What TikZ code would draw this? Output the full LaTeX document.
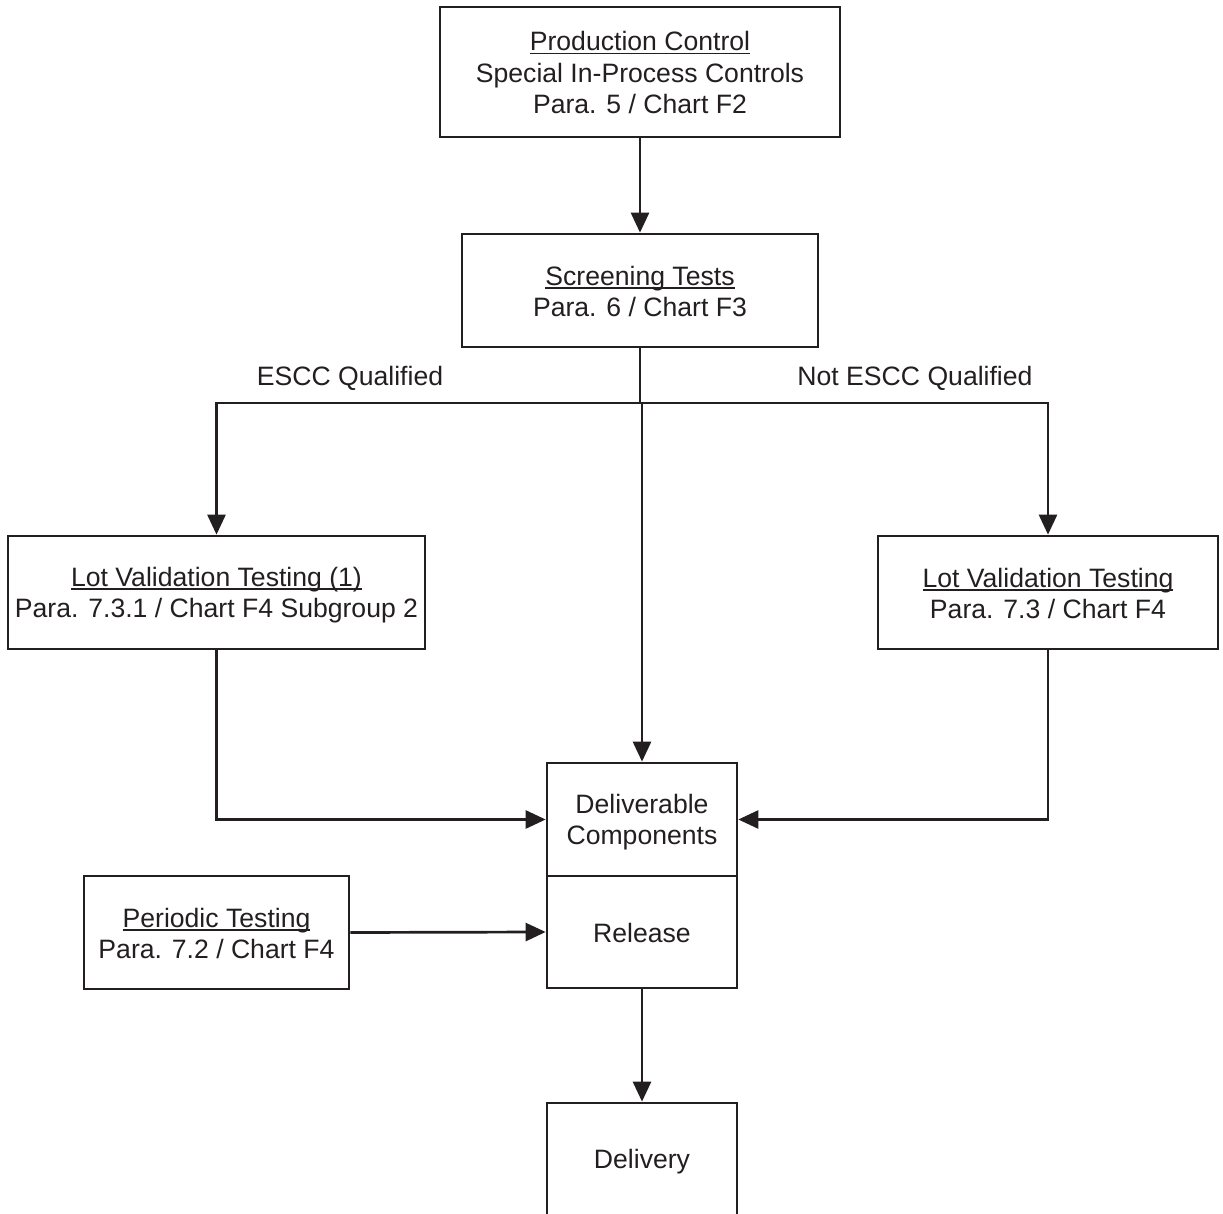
\documentclass[tikz,border=0pt]{standalone}
\usepackage{fontspec}
\setmainfont{Liberation Sans}
\usetikzlibrary{arrows.meta}
\definecolor{ink}{HTML}{231F20}
\newcommand\ms{\rule[-1.8pt]{0pt}{14pt}}
\newcommand\ulin[1]{\setbox0\hbox{#1}\rlap{\copy0}\rule[-1.8pt]{\wd0}{0.8pt}\ms}
\begin{document}
\begin{tikzpicture}[x=0.5pt,y=-0.5pt,
  every node/.style={text=ink,font=\fontsize{13.3pt}{15.8pt}\selectfont},
  box/.style={draw=ink,line width=1.35pt,inner sep=0pt,align=center},
  conn/.style={draw=ink,line width=1.35pt},
  arr/.style={conn,-{Triangle[length=10pt,width=9pt]}}]
\useasboundingbox (0,0) rectangle (1223,1214);
\node[box,minimum width=200pt,minimum height=65pt] (prod) at (640,72)
  {\ulin{Production Control}\\Special In-Process Controls\ms\\Para. 5 / Chart F2\ms};
\node[box,minimum width=178pt,minimum height=56.5pt] (screen) at (640,290.5)
  {\ulin{Screening Tests}\\Para. 6 / Chart F3\ms};
\node[box,minimum width=208.5pt,minimum height=56.5pt] (lotl) at (216.5,592.5)
  {\ulin{Lot Validation Testing (1)}\\Para. 7.3.1 / Chart F4 Subgroup 2\ms};
\node[box,minimum width=170pt,minimum height=56.5pt] (lotr) at (1048,592.5)
  {\ulin{Lot Validation Testing}\\Para. 7.3 / Chart F4\ms};
\node[box,minimum width=95pt,minimum height=56.5pt] (deliv) at (642,819.5)
  {Deliverable\ms\\Components\ms};
\node[box,minimum width=95pt,minimum height=56pt] (rel) at (642,932)
  {Release\ms};
\node[box,minimum width=132.5pt,minimum height=56.5pt] (per) at (216.5,932.5)
  {\ulin{Periodic Testing}\\Para. 7.2 / Chart F4\ms};
\node[box,minimum width=95pt,minimum height=56.5pt] (dlv) at (642,1159.5)
  {Delivery\ms};
\node (lq) at (350,376) {ESCC Qualified\ms};
\node (lnq) at (915,376) {Not ESCC Qualified\ms};
\coordinate (jc) at (640,403);
\draw[arr] (prod.south) -- (screen.north);
\draw[arr] (screen.south) -- (jc) -| (lotl.north);
\draw[arr] (jc) -| (lotr.north);
\draw[arr] (deliv.north |- jc) -- (deliv.north);
\draw[arr] (lotl.south) |- (deliv.west);
\draw[arr] (lotr.south) |- (deliv.east);
\draw[arr] (per.east) -- (rel.west);
\draw[arr] (rel.south) -- (dlv.north);
\end{tikzpicture}
\end{document}
